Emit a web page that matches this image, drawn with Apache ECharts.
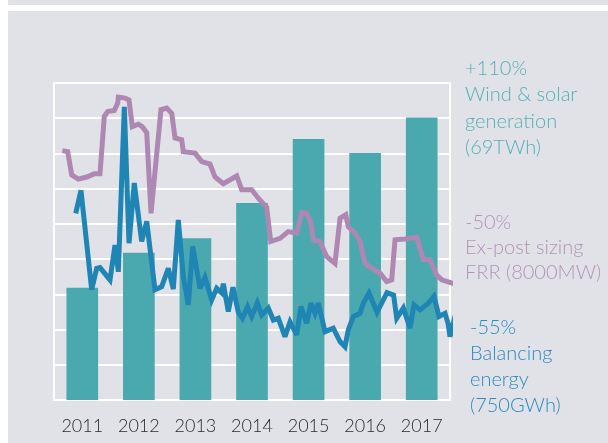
<!DOCTYPE html>
<html>
<head>
<meta charset="utf-8">
<script src="https://cdn.jsdelivr.net/npm/echarts@6/dist/echarts.min.js"></script>
<style>
    html, body { margin: 0; padding: 0; background: #ffffff; }
    .bg { position: absolute; background: #e1e2e7; }
    #myChart { position: absolute; left: 0; top: 0; width: 608px; height: 443px; }
</style>
</head>
<body>
<div class="bg" style="left:8px; top:0; width:600px; height:5px;"></div>
<div class="bg" style="left:8px; top:11px; width:600px; height:432px;"></div>
<div id="myChart"></div>
<script>
    // years on the bar axis
    var years = ['2011', '2012', '2013', '2014', '2015', '2016', '2017'];
    // wind & solar generation (index, 0-90 scale)
    var windSolar = [31.9, 41.8, 45.9, 55.9, 74.1, 70.1, 80.2];

    // ex-post sizing FRR: time (fractional year) and value
    var frrX = [2011.147, 2011.242, 2011.313, 2011.430, 2011.578, 2011.712, 2011.813, 2011.889, 2011.949, 2012.066,
        2012.126, 2012.137, 2012.255, 2012.326, 2012.384, 2012.490, 2012.561, 2012.639, 2012.715, 2012.891,
        2012.992, 2013.081, 2013.139, 2013.257, 2013.286, 2013.493, 2013.611, 2013.758, 2013.846, 2013.993,
        2014.230, 2014.318, 2014.495, 2014.611, 2014.760, 2014.831, 2014.995, 2015.142, 2015.290, 2015.379,
        2015.467, 2015.543, 2015.584, 2015.702, 2015.821, 2015.967, 2016.056, 2016.157, 2016.202, 2016.321,
        2016.409, 2016.498, 2016.616, 2016.763, 2016.881, 2016.970, 2017.028, 2017.205, 2017.412, 2017.528,
        2017.647, 2017.765, 2017.854, 2018.265];
    var frrY = [70.8, 70.5, 63.9, 62.7, 63.3, 64.2, 64.2, 80.5, 81.9, 82.2,
        84.3, 86.0, 85.7, 85.2, 77.6, 78.3, 77.6, 75.9, 53.0, 82.4,
        82.9, 81.4, 74.4, 73.9, 70.5, 70.1, 67.7, 67.0, 63.3, 61.4,
        63.6, 59.7, 59.7, 57.3, 54.7, 45.0, 45.9, 47.8, 47.4, 53.2,
        53.0, 50.2, 45.5, 45.0, 40.7, 38.8, 51.6, 52.6, 49.2, 47.4,
        45.0, 38.8, 37.4, 36.0, 33.6, 34.1, 45.5, 45.7, 46.2, 39.8,
        39.8, 35.5, 34.1, 32.0];

    // balancing energy: time (fractional year) and value
    var balX = [2011.384, 2011.477, 2011.666, 2011.755, 2011.813, 2011.990, 2012.078, 2012.137, 2012.243, 2012.326,
        2012.419, 2012.550, 2012.639, 2012.785, 2012.904, 2013.020, 2013.109, 2013.197, 2013.286, 2013.374,
        2013.452, 2013.581, 2013.669, 2013.788, 2013.876, 2013.964, 2013.993, 2014.081, 2014.164, 2014.258,
        2014.332, 2014.421, 2014.495, 2014.594, 2014.672, 2014.788, 2014.877, 2014.965, 2015.083, 2015.172,
        2015.290, 2015.366, 2015.467, 2015.543, 2015.614, 2015.672, 2015.790, 2015.937, 2016.056, 2016.144,
        2016.202, 2016.291, 2016.409, 2016.468, 2016.569, 2016.710, 2016.886, 2017.003, 2017.058, 2017.175,
        2017.293, 2017.364, 2017.470, 2017.617, 2017.717, 2017.806, 2017.912, 2017.965, 2018.000, 2018.088,
        2018.177];
    var balY = [53.0, 59.5, 31.3, 37.4, 37.6, 34.1, 44.0, 36.4, 83.2, 44.5,
        61.6, 45.0, 50.7, 31.3, 32.2, 37.4, 31.5, 51.1, 35.0, 27.0,
        43.6, 31.7, 34.8, 28.4, 31.7, 30.4, 33.0, 25.1, 32.0, 24.9,
        23.2, 26.5, 23.7, 27.6, 24.1, 26.1, 22.7, 23.2, 18.0, 22.2,
        18.5, 26.5, 21.8, 27.5, 24.6, 27.5, 19.4, 20.4, 16.6, 15.1,
        19.9, 23.7, 24.6, 27.5, 30.4, 24.9, 30.5, 29.8, 23.2, 26.1,
        20.4, 27.0, 25.6, 27.5, 29.4, 23.7, 24.6, 21.8, 18.0, 23.7,
        24.8];

    function zip(xs, ys) {
        return xs.map(function (x, i) { return [x, ys[i]]; });
    }

    var font = 'Lato, "DejaVu Sans", sans-serif';
    var myChart = echarts.init(document.getElementById('myChart'));
    myChart.setOption({
        animation: false,
        backgroundColor: 'transparent',
        grid: {
            left: 54, right: 158, top: 83, bottom: 43,
            show: true,
            borderColor: '#ffffff',
            borderWidth: 2,
            backgroundColor: 'transparent'
        },
        xAxis: [
            {
                type: 'category',
                data: years,
                axisLine: { show: false },
                axisTick: { show: false },
                axisLabel: {
                    color: '#2b2b2b',
                    fontSize: 18,
                    fontFamily: font,
                    fontWeight: 300,
                    margin: 17
                }
            },
            {
                type: 'value',
                min: 2011,
                max: 2018,
                show: false
            }
        ],
        yAxis: {
            type: 'value',
            min: 0,
            max: 90,
            interval: 10,
            axisLine: { show: false },
            axisTick: { show: false },
            axisLabel: { show: false },
            splitLine: { lineStyle: { color: '#ffffff', width: 2 } }
        },
        series: [
            {
                name: 'Wind & solar generation',
                type: 'bar',
                xAxisIndex: 0,
                data: windSolar,
                barWidth: '56%',
                itemStyle: { color: '#4aa9ae' }
            },
            {
                name: 'Ex-post sizing FRR',
                type: 'line',
                xAxisIndex: 1,
                data: zip(frrX, frrY),
                symbol: 'none',
                clip: false,
                lineStyle: { color: '#ae88b2', width: 5, join: 'miter', miterLimit: 3 }
            },
            {
                name: 'Balancing energy',
                type: 'line',
                xAxisIndex: 1,
                data: zip(balX, balY),
                symbol: 'none',
                clip: false,
                lineStyle: { color: '#1f85b5', width: 5, join: 'miter', miterLimit: 3 }
            }
        ],
        graphic: [
            {
                type: 'text', left: 465, top: 55,
                style: {
                    text: '+110%\nWind & solar\ngeneration\n(69TWh)',
                    fill: '#52b1b5', font: '300 20px ' + font, lineHeight: 26.5
                }
            },
            {
                type: 'text', left: 465, top: 210,
                style: {
                    text: '-50%\nEx-post sizing\nFRR (8000MW)',
                    fill: '#b592b9', font: '300 20px ' + font, lineHeight: 25
                }
            },
            {
                type: 'text', left: 470, top: 315,
                style: {
                    text: '-55%\nBalancing\nenergy\n(750GWh)',
                    fill: '#2a8cc0', font: '300 20px ' + font, lineHeight: 25.8
                }
            }
        ]
    });
</script>
</body>
</html>
